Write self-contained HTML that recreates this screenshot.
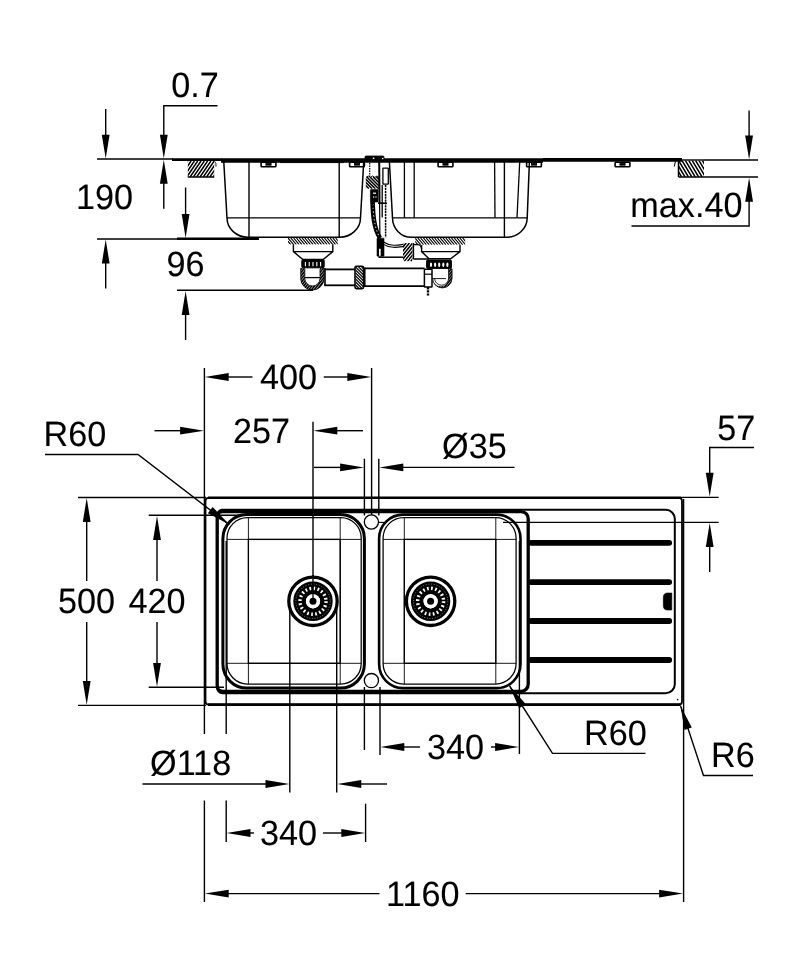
<!DOCTYPE html>
<html lang="en">
<head>
<meta charset="utf-8">
<title>Sink dimensional drawing</title>
<style>
html,body{margin:0;padding:0;background:#fff;}
body{width:801px;height:960px;overflow:hidden;}
svg{display:block;will-change:transform;}
svg text{font-family:"Liberation Sans",Arial,Helvetica,sans-serif;font-size:35.1px;text-rendering:geometricPrecision;fill:#000;stroke:#000;stroke-width:0.08px;}
</style>
</head>
<body>
<svg width="801" height="960" viewBox="0 0 801 960" stroke="#000" fill="none">
<rect x="0" y="0" width="801" height="960" fill="#fff" stroke="none"/>
<g id="side-view">
<line x1="97" y1="159" x2="173" y2="159" stroke-width="1.4"/>
<line x1="97" y1="239" x2="178" y2="239" stroke-width="1.4"/>
<line x1="177" y1="290.2" x2="313" y2="290.2" stroke-width="1.4"/>
<line x1="177" y1="238.8" x2="259" y2="238.8" stroke-width="2.6"/>
<line x1="105.7" y1="109" x2="105.7" y2="140" stroke-width="1.4"/>
<polygon points="105.70,158.60 101.80,134.70 109.60,134.70" fill="#000" stroke="none"/>
<line x1="105.7" y1="260" x2="105.7" y2="288.5" stroke-width="1.4"/>
<polygon points="105.70,239.60 109.60,263.50 101.80,263.50" fill="#000" stroke="none"/>
<path d="M217.5 105.7 H163.8 V140" stroke-width="1.4" fill="none"/>
<polygon points="163.80,158.60 159.90,134.70 167.70,134.70" fill="#000" stroke="none"/>
<polygon points="163.80,159.80 167.70,183.70 159.90,183.70" fill="#000" stroke="none"/>
<line x1="163.8" y1="180" x2="163.8" y2="208.7" stroke-width="1.4"/>
<line x1="185.6" y1="187.5" x2="185.6" y2="215" stroke-width="1.4"/>
<polygon points="185.60,238.00 181.70,214.10 189.50,214.10" fill="#000" stroke="none"/>
<polygon points="185.60,291.00 189.50,314.90 181.70,314.90" fill="#000" stroke="none"/>
<line x1="185.6" y1="312" x2="185.6" y2="340" stroke-width="1.4"/>
<line x1="749.1" y1="110.5" x2="749.1" y2="140" stroke-width="1.4"/>
<polygon points="749.10,159.40 745.20,135.50 753.00,135.50" fill="#000" stroke="none"/>
<polygon points="749.10,177.80 753.00,201.70 745.20,201.70" fill="#000" stroke="none"/>
<path d="M749.1 200 V226 H631.5" stroke-width="1.4" fill="none"/>
<line x1="704" y1="160" x2="758" y2="160" stroke-width="1.4"/>
<line x1="678.5" y1="177" x2="758" y2="177" stroke-width="1.4"/>
<text transform="translate(195 96.8) scale(0.975 1)" text-anchor="middle">0.7</text>
<text transform="translate(104.6 209.2) scale(0.975 1)" text-anchor="middle">190</text>
<text transform="translate(185.5 276) scale(0.975 1)" text-anchor="middle">96</text>
<text transform="translate(686.4 217.2) scale(0.975 1)" text-anchor="middle">max.40</text>
<line x1="172" y1="159.7" x2="222" y2="159.7" stroke-width="2.7"/>
<line x1="221" y1="160.4" x2="543" y2="160.4" stroke-width="4.5"/>
<line x1="543" y1="159.9" x2="682" y2="159.9" stroke-width="3.6"/>
<line x1="280" y1="162.6" x2="344" y2="162.6" stroke-width="0.9"/>
<clipPath id="h1"><rect x="187.8" y="161" width="26.4" height="16"/></clipPath>
<g clip-path="url(#h1)" stroke="#000" stroke-width="1.5">
<path d="M176.9 177.0L187.8 161.0M180.2 177.0L191.1 161.0M183.5 177.0L194.4 161.0M186.8 177.0L197.7 161.0M190.1 177.0L201.0 161.0M193.4 177.0L204.3 161.0M196.7 177.0L207.6 161.0M200.0 177.0L210.9 161.0M203.3 177.0L214.2 161.0M206.6 177.0L217.5 161.0M209.9 177.0L220.8 161.0M213.2 177.0L224.1 161.0M216.5 177.0L227.4 161.0M219.8 177.0L230.7 161.0M223.1 177.0L234.0 161.0"/>
</g>
<line x1="187.8" y1="177" x2="214.2" y2="177" stroke-width="1.5"/>
<path d="M214.4 161.2 Q216.6 163 216 166.6" stroke-width="0.9" fill="none"/>
<clipPath id="h2"><rect x="678.2" y="160.4" width="25.8" height="16.5"/></clipPath>
<g clip-path="url(#h2)" stroke="#000" stroke-width="1.55">
<path d="M668.3 160.4L678.2 176.9M671.7 160.4L681.6 176.9M675.1 160.4L685.0 176.9M678.5 160.4L688.4 176.9M681.9 160.4L691.8 176.9M685.3 160.4L695.2 176.9M688.7 160.4L698.6 176.9M692.1 160.4L702.0 176.9M695.5 160.4L705.4 176.9M698.9 160.4L708.8 176.9M702.3 160.4L712.2 176.9M705.7 160.4L715.6 176.9M709.1 160.4L719.0 176.9M712.5 160.4L722.4 176.9"/>
</g>
<line x1="678.5" y1="160.4" x2="678.5" y2="177" stroke-width="1.5"/>
<line x1="682" y1="160" x2="704" y2="160" stroke-width="1.4"/>
<line x1="675.5" y1="161" x2="674.3" y2="166.5" stroke-width="1"/>
<rect x="261.1" y="162.2" width="14.8" height="4.6" rx="0.8" stroke-width="1.6" fill="#fff"/>
<rect x="265.9" y="163.2" width="5.2" height="2" rx="0" stroke-width="0.8" fill="#000"/>
<rect x="349.6" y="162.2" width="14.8" height="4.6" rx="0.8" stroke-width="1.6" fill="#fff"/>
<rect x="354.4" y="163.2" width="5.2" height="2" rx="0" stroke-width="0.8" fill="#000"/>
<rect x="438.1" y="162.2" width="14.8" height="4.6" rx="0.8" stroke-width="1.6" fill="#fff"/>
<rect x="442.9" y="163.2" width="5.2" height="2" rx="0" stroke-width="0.8" fill="#000"/>
<rect x="526.6" y="162.2" width="14.8" height="4.6" rx="0.8" stroke-width="1.6" fill="#fff"/>
<rect x="531.4" y="163.2" width="5.2" height="2" rx="0" stroke-width="0.8" fill="#000"/>
<rect x="615.1" y="162.2" width="14.8" height="4.6" rx="0.8" stroke-width="1.6" fill="#fff"/>
<rect x="619.9" y="163.2" width="5.2" height="2" rx="0" stroke-width="0.8" fill="#000"/>
<path d="M223.8 162 L227 218 A21 19.5 0 0 0 248 237.3 H339.5 A21 19.5 0 0 0 360.5 218 L363.7 162" stroke-width="1.5" fill="none"/>
<line x1="249" y1="162" x2="249" y2="237.3" stroke-width="1.4"/>
<line x1="339.2" y1="162" x2="339.2" y2="237.3" stroke-width="1.4"/>
<line x1="227" y1="217.8" x2="360.5" y2="217.8" stroke-width="1.2"/>
<path d="M389.4 162 L392.5 218 A19 19.5 0 0 0 411.5 237.3 H506 A21 19.5 0 0 0 527.2 218 L529.4 162" stroke-width="1.5" fill="none"/>
<line x1="404.4" y1="162" x2="404.4" y2="217.8" stroke-width="1.3"/>
<line x1="414.2" y1="162" x2="414.2" y2="217.8" stroke-width="1.3"/>
<line x1="494.6" y1="162" x2="495" y2="217.8" stroke-width="1.3"/>
<line x1="504.4" y1="162" x2="504.4" y2="237.3" stroke-width="1.4"/>
<line x1="519.7" y1="162" x2="517" y2="217.8" stroke-width="1.3"/>
<line x1="392.5" y1="217.8" x2="527.2" y2="217.8" stroke-width="1.2"/>
<clipPath id="h3"><rect x="288" y="238" width="49.8" height="6.6"/></clipPath>
<g clip-path="url(#h3)" stroke="#000" stroke-width="1.15">
<path d="M282.4 238.0L288.0 244.6M285.2 238.0L290.8 244.6M288.0 238.0L293.6 244.6M290.8 238.0L296.4 244.6M293.6 238.0L299.2 244.6M296.4 238.0L302.0 244.6M299.2 238.0L304.8 244.6M302.0 238.0L307.6 244.6M304.8 238.0L310.4 244.6M307.6 238.0L313.2 244.6M310.4 238.0L316.0 244.6M313.2 238.0L318.8 244.6M316.0 238.0L321.6 244.6M318.8 238.0L324.4 244.6M321.6 238.0L327.2 244.6M324.4 238.0L330.0 244.6M327.2 238.0L332.8 244.6M330.0 238.0L335.6 244.6M332.8 238.0L338.4 244.6M335.6 238.0L341.2 244.6M338.4 238.0L344.0 244.6M341.2 238.0L346.8 244.6"/>
</g>
<clipPath id="h4"><rect x="415.2" y="238" width="50" height="6.8"/></clipPath>
<g clip-path="url(#h4)" stroke="#000" stroke-width="1.15">
<path d="M409.4 238.0L415.2 244.8M412.2 238.0L418.0 244.8M415.0 238.0L420.8 244.8M417.8 238.0L423.6 244.8M420.6 238.0L426.4 244.8M423.4 238.0L429.2 244.8M426.2 238.0L432.0 244.8M429.0 238.0L434.8 244.8M431.8 238.0L437.6 244.8M434.6 238.0L440.4 244.8M437.4 238.0L443.2 244.8M440.2 238.0L446.0 244.8M443.0 238.0L448.8 244.8M445.8 238.0L451.6 244.8M448.6 238.0L454.4 244.8M451.4 238.0L457.2 244.8M454.2 238.0L460.0 244.8M457.0 238.0L462.8 244.8M459.8 238.0L465.6 244.8M462.6 238.0L468.4 244.8M465.4 238.0L471.2 244.8M468.2 238.0L474.0 244.8"/>
</g>
<path d="M293.4 244.2 V251.6 L302.6 259.4 H323.4 L332.8 251.6 V244.2 M293.4 251.6 H332.8" stroke-width="1.4" fill="none"/>
<rect x="301.8" y="259.8" width="22.4" height="8" rx="1.2" stroke-width="1" fill="#000"/>
<line x1="305.4" y1="262" x2="305.4" y2="266.2" stroke-width="1.1" stroke="#fff"/>
<line x1="309.2" y1="262" x2="309.2" y2="266.2" stroke-width="1.1" stroke="#fff"/>
<line x1="313" y1="262" x2="313" y2="266.2" stroke-width="1.1" stroke="#fff"/>
<line x1="316.8" y1="262" x2="316.8" y2="266.2" stroke-width="1.1" stroke="#fff"/>
<line x1="320.6" y1="262" x2="320.6" y2="266.2" stroke-width="1.1" stroke="#fff"/>
<clipPath id="h8"><path d="M300.6 268 V278.4 A11.8 11.8 0 0 0 324.2 278.4 V268 Z M304.8 268 V278.4 A7.6 7.6 0 0 0 320 278.4 V268 Z" clip-rule="evenodd"/></clipPath>
<g clip-path="url(#h8)" stroke="#000" stroke-width="1.6">
<path d="M280.8 291.0L300.0 267.0M283.5 291.0L302.7 267.0M286.2 291.0L305.4 267.0M288.9 291.0L308.1 267.0M291.6 291.0L310.8 267.0M294.3 291.0L313.5 267.0M297.0 291.0L316.2 267.0M299.7 291.0L318.9 267.0M302.4 291.0L321.6 267.0M305.1 291.0L324.3 267.0M307.8 291.0L327.0 267.0M310.5 291.0L329.7 267.0M313.2 291.0L332.4 267.0M315.9 291.0L335.1 267.0M318.6 291.0L337.8 267.0M321.3 291.0L340.5 267.0M324.0 291.0L343.2 267.0M326.7 291.0L345.9 267.0M329.4 291.0L348.6 267.0M332.1 291.0L351.3 267.0M334.8 291.0L354.0 267.0M337.5 291.0L356.7 267.0M340.2 291.0L359.4 267.0M342.9 291.0L362.1 267.0"/>
</g>
<path d="M300.8 268 V278.4 A11.6 11.6 0 0 0 324 278.4 V268" stroke-width="0.8" fill="none"/>
<path d="M304.8 269 V278.4 A7.6 7.6 0 0 0 320 278.4 V269" stroke-width="0.8" fill="none"/>
<line x1="305" y1="277.6" x2="320" y2="277.6" stroke-width="1.3"/>
<line x1="324.4" y1="269.4" x2="355" y2="269.4" stroke-width="1.8"/>
<line x1="324.4" y1="285.3" x2="355" y2="285.3" stroke-width="1.8"/>
<line x1="325" y1="268" x2="325" y2="286" stroke-width="1.6"/>
<rect x="355" y="266.2" width="8.6" height="22.4" rx="1.5" stroke-width="1.6" fill="#fff"/>
<clipPath id="h5"><rect x="355.6" y="267" width="7.4" height="21"/></clipPath>
<g clip-path="url(#h5)" stroke="#000" stroke-width="1.2">
<path d="M334.6 267.0L355.6 288.0M337.6 267.0L358.6 288.0M340.6 267.0L361.6 288.0M343.6 267.0L364.6 288.0M346.6 267.0L367.6 288.0M349.6 267.0L370.6 288.0M352.6 267.0L373.6 288.0M355.6 267.0L376.6 288.0M358.6 267.0L379.6 288.0M361.6 267.0L382.6 288.0M364.6 267.0L385.6 288.0M367.6 267.0L388.6 288.0M370.6 267.0L391.6 288.0M373.6 267.0L394.6 288.0M376.6 267.0L397.6 288.0M379.6 267.0L400.6 288.0M382.6 267.0L403.6 288.0"/>
</g>
<line x1="364.6" y1="268.4" x2="424.6" y2="268.4" stroke-width="1.7"/>
<line x1="364.6" y1="286.2" x2="424.6" y2="286.2" stroke-width="1.7"/>
<line x1="364.8" y1="267.6" x2="364.8" y2="287" stroke-width="1.5"/>
<path d="M421.6 245 V251.6 L429 258.8 H450.6 L460 251.6 V245 M421.6 251.6 H460" stroke-width="1.4" fill="none"/>
<rect x="426.6" y="260" width="24.8" height="8.4" rx="1.2" stroke-width="1" fill="#000"/>
<ellipse cx="431" cy="264.8" rx="1.1" ry="2.2" fill="#fff" stroke="none"/>
<ellipse cx="435.1" cy="264.8" rx="1.1" ry="2.2" fill="#fff" stroke="none"/>
<ellipse cx="439.2" cy="264.8" rx="1.1" ry="2.2" fill="#fff" stroke="none"/>
<ellipse cx="443.3" cy="264.8" rx="1.1" ry="2.2" fill="#fff" stroke="none"/>
<ellipse cx="447.4" cy="264.8" rx="1.1" ry="2.2" fill="#fff" stroke="none"/>
<clipPath id="h9"><path d="M432.4 268.6 V278.2 A9.9 9.9 0 0 0 452.2 278.2 V268.6 Z M432.4 268.6 V278.2 A7 7 0 0 0 448.6 278.2 V268.6 Z" clip-rule="evenodd"/></clipPath>
<g clip-path="url(#h9)" stroke="#000" stroke-width="1.6">
<path d="M414.4 289.0L432.0 267.0M417.0 289.0L434.6 267.0M419.6 289.0L437.2 267.0M422.2 289.0L439.8 267.0M424.8 289.0L442.4 267.0M427.4 289.0L445.0 267.0M430.0 289.0L447.6 267.0M432.6 289.0L450.2 267.0M435.2 289.0L452.8 267.0M437.8 289.0L455.4 267.0M440.4 289.0L458.0 267.0M443.0 289.0L460.6 267.0M445.6 289.0L463.2 267.0M448.2 289.0L465.8 267.0M450.8 289.0L468.4 267.0M453.4 289.0L471.0 267.0M456.0 289.0L473.6 267.0M458.6 289.0L476.2 267.0M461.2 289.0L478.8 267.0M463.8 289.0L481.4 267.0M466.4 289.0L484.0 267.0M469.0 289.0L486.6 267.0"/>
</g>
<path d="M432.6 278.2 A9.7 9.7 0 0 0 452 278.2 V268.6" stroke-width="0.8" fill="none"/>
<path d="M434.6 278.2 A7 7 0 0 0 448.6 278.2 V269" stroke-width="0.8" fill="none"/>
<line x1="432.6" y1="278.6" x2="446" y2="278.6" stroke-width="0.9"/>
<rect x="424.4" y="269.2" width="7.6" height="17.8" rx="0.5" stroke-width="1.5" fill="#fff"/>
<line x1="424.4" y1="274.2" x2="432" y2="274.2" stroke-width="1.2"/>
<line x1="428" y1="287" x2="428" y2="295.6" stroke-width="2.4" stroke-dasharray="2.4 0.8"/>
<path d="M384 242.2 C390 246.4 397 245.4 403.4 244.4 M384 244.6 C390 248.4 397 247.4 403.4 246.6" stroke-width="1.1" fill="none"/>
<line x1="378.4" y1="257.2" x2="403.4" y2="257.2" stroke-width="1.5"/>
<clipPath id="h6"><rect x="403" y="243" width="9.4" height="18.4"/></clipPath>
<g clip-path="url(#h6)" stroke="#000" stroke-width="1.5">
<path d="M388.3 261.4L403.0 243.0M391.5 261.4L406.2 243.0M394.7 261.4L409.4 243.0M397.9 261.4L412.6 243.0M401.1 261.4L415.8 243.0M404.3 261.4L419.0 243.0M407.5 261.4L422.2 243.0M410.7 261.4L425.4 243.0M413.9 261.4L428.6 243.0M417.1 261.4L431.8 243.0M420.3 261.4L435.0 243.0M423.5 261.4L438.2 243.0M426.7 261.4L441.4 243.0"/>
</g>
<line x1="413.4" y1="243" x2="413.4" y2="259" stroke-width="1.5"/>
<path d="M413.4 244.6 H418 Q421.2 245 421.6 249 M413.4 259 H429" stroke-width="1.3" fill="none"/>
<rect x="365" y="156" width="19" height="4.4" rx="1" stroke-width="0.8" fill="#000"/>
<rect x="372.8" y="157.6" width="1.6" height="1.4" rx="0" stroke-width="0" fill="#fff" stroke="none"/>
<rect x="382" y="157.8" width="1.4" height="1.4" rx="0" stroke-width="0" fill="#fff" stroke="none"/>
<line x1="369.7" y1="163" x2="369.7" y2="177" stroke-width="1.2" stroke-dasharray="1.6 0.9"/>
<line x1="379.2" y1="162" x2="379.5" y2="204" stroke-width="2"/>
<line x1="379.6" y1="204" x2="379.9" y2="238" stroke-width="1.2"/>
<rect x="382.9" y="168.2" width="5.4" height="16" rx="0.4" stroke-width="1.3" fill="#fff"/>
<clipPath id="h7"><rect x="365.8" y="177" width="13.4" height="11.8"/></clipPath>
<g clip-path="url(#h7)" stroke="#000" stroke-width="1.5">
<path d="M354.0 177.0L365.8 188.8M357.2 177.0L369.0 188.8M360.4 177.0L372.2 188.8M363.6 177.0L375.4 188.8M366.8 177.0L378.6 188.8M370.0 177.0L381.8 188.8M373.2 177.0L385.0 188.8M376.4 177.0L388.2 188.8M379.6 177.0L391.4 188.8M382.8 177.0L394.6 188.8M386.0 177.0L397.8 188.8M389.2 177.0L401.0 188.8"/>
</g>
<path d="M366 177.4 l2.2 -1.4 l2.2 1.4 l2.2 -1.4 l2.2 1.4 l2.2 -1.4 l2 1.4" stroke-width="1" fill="none"/>
<rect x="370.4" y="189.4" width="7.6" height="12.6" rx="0.6" stroke-width="0.6" fill="#000"/>
<rect x="373" y="192.6" width="3" height="1.2" rx="0" stroke-width="0" fill="#fff" stroke="none"/>
<rect x="373" y="196.4" width="1.2" height="1.2" rx="0" stroke-width="0" fill="#fff" stroke="none"/>
<rect x="375.4" y="196.4" width="1.2" height="1.2" rx="0" stroke-width="0" fill="#fff" stroke="none"/>
<line x1="378" y1="203.2" x2="387" y2="203.2" stroke-width="1.6"/>
<line x1="382.2" y1="185" x2="382.2" y2="217.5" stroke-width="1.3"/>
<line x1="385.6" y1="185" x2="385.6" y2="237.5" stroke-width="1.5" stroke-dasharray="2.2 0.7"/>
<path d="M372.6 202 C373 214 373.6 228 380 238" stroke-width="4.6" fill="none"/>
<path d="M373 204 C373.4 214 374 226 379 236" stroke-width="0.9" fill="none" stroke="#fff" stroke-dasharray="1.4 2.4"/>
<path d="M370.6 203 l4 3 M371 206 l4 3" stroke-width="1" fill="none"/>
<rect x="377" y="238.2" width="7" height="18" rx="0.4" stroke-width="0.6" fill="#000"/>
<rect x="379" y="248.8" width="1.7" height="7" rx="0" stroke-width="0" fill="#fff" stroke="none"/>
</g>
<g id="plan-view">
<line x1="204.4" y1="368" x2="204.4" y2="734" stroke-width="1.4"/>
<line x1="204.4" y1="800.5" x2="204.4" y2="902" stroke-width="1.4"/>
<line x1="371.6" y1="368" x2="371.6" y2="515" stroke-width="1.4"/>
<line x1="313" y1="421.7" x2="313" y2="601" stroke-width="1.4"/>
<line x1="364.4" y1="458.7" x2="364.4" y2="515.5" stroke-width="1.4"/>
<line x1="364.4" y1="687" x2="364.4" y2="750" stroke-width="1.4"/>
<line x1="378.8" y1="458.7" x2="378.8" y2="515.5" stroke-width="1.4"/>
<line x1="380" y1="687" x2="380" y2="755" stroke-width="1.4"/>
<line x1="365.6" y1="803.7" x2="365.6" y2="842" stroke-width="1.4"/>
<line x1="226.2" y1="541" x2="226.2" y2="734" stroke-width="1.4"/>
<line x1="226.2" y1="800.5" x2="226.2" y2="842" stroke-width="1.4"/>
<line x1="289.8" y1="606" x2="289.8" y2="792.5" stroke-width="1.4"/>
<line x1="336.7" y1="606" x2="336.7" y2="792.5" stroke-width="1.4"/>
<line x1="519.4" y1="541" x2="519.4" y2="754" stroke-width="1.4"/>
<line x1="683.6" y1="499" x2="683.6" y2="902" stroke-width="1.4"/>
<line x1="78" y1="497.5" x2="206" y2="497.5" stroke-width="1.4"/>
<line x1="78" y1="705.4" x2="206" y2="705.4" stroke-width="1.4"/>
<line x1="148.7" y1="515.3" x2="247" y2="515.3" stroke-width="1.4"/>
<line x1="148.7" y1="687.3" x2="224" y2="687.3" stroke-width="1.4"/>
<line x1="680" y1="497.4" x2="718.7" y2="497.4" stroke-width="1.4"/>
<line x1="503" y1="522.4" x2="718.7" y2="522.4" stroke-width="1.4"/>
<line x1="378.6" y1="522.4" x2="384.6" y2="522.4" stroke-width="1.1"/>
<polygon points="204.80,377.00 228.70,373.10 228.70,380.90" fill="#000" stroke="none"/>
<line x1="226" y1="377" x2="252.5" y2="377" stroke-width="1.4"/>
<line x1="323.7" y1="377" x2="350" y2="377" stroke-width="1.4"/>
<polygon points="371.20,377.00 347.30,380.90 347.30,373.10" fill="#000" stroke="none"/>
<text transform="translate(288.5 389.2) scale(0.975 1)" text-anchor="middle">400</text>
<polygon points="204.00,430.70 180.10,434.60 180.10,426.80" fill="#000" stroke="none"/>
<line x1="154.5" y1="430.7" x2="182" y2="430.7" stroke-width="1.4"/>
<text transform="translate(43.6 445.5) scale(0.975 1)" text-anchor="start">R60</text>
<path d="M45 454.5 H138 L229.2 524.6" stroke-width="1.4" fill="none"/>
<polygon points="229.20,524.60 207.87,513.13 212.63,506.94" fill="#000" stroke="none"/>
<polygon points="313.40,430.70 337.30,426.80 337.30,434.60" fill="#000" stroke="none"/>
<line x1="335" y1="430.7" x2="363" y2="430.7" stroke-width="1.4"/>
<text transform="translate(261.6 442.6) scale(0.975 1)" text-anchor="middle">257</text>
<line x1="314" y1="467.4" x2="342" y2="467.4" stroke-width="1.4"/>
<polygon points="364.00,467.40 340.10,471.30 340.10,463.50" fill="#000" stroke="none"/>
<polygon points="379.40,467.40 403.30,463.50 403.30,471.30" fill="#000" stroke="none"/>
<line x1="402" y1="467.4" x2="514.5" y2="467.4" stroke-width="1.4"/>
<text transform="translate(474.4 457.6) scale(0.975 1)" text-anchor="middle">Ø35</text>
<text transform="translate(736.2 439.6) scale(0.975 1)" text-anchor="middle">57</text>
<path d="M754 447.5 H709.7 V475" stroke-width="1.4" fill="none"/>
<polygon points="709.70,496.60 705.80,472.70 713.60,472.70" fill="#000" stroke="none"/>
<polygon points="709.70,523.00 713.60,546.90 705.80,546.90" fill="#000" stroke="none"/>
<line x1="709.7" y1="545" x2="709.7" y2="572" stroke-width="1.4"/>
<polygon points="86.70,498.00 90.60,521.90 82.80,521.90" fill="#000" stroke="none"/>
<line x1="86.7" y1="520" x2="86.7" y2="581" stroke-width="1.4"/>
<line x1="86.7" y1="622" x2="86.7" y2="683" stroke-width="1.4"/>
<polygon points="86.70,704.80 82.80,680.90 90.60,680.90" fill="#000" stroke="none"/>
<text transform="translate(86.6 612.6) scale(0.975 1)" text-anchor="middle">500</text>
<polygon points="157.00,516.00 160.90,539.90 153.10,539.90" fill="#000" stroke="none"/>
<line x1="157" y1="538" x2="157" y2="581" stroke-width="1.4"/>
<line x1="157" y1="622" x2="157" y2="666" stroke-width="1.4"/>
<polygon points="157.00,686.80 153.10,662.90 160.90,662.90" fill="#000" stroke="none"/>
<text transform="translate(157 612.6) scale(0.975 1)" text-anchor="middle">420</text>
<text transform="translate(190.6 774.6) scale(0.975 1)" text-anchor="middle">Ø118</text>
<line x1="142.5" y1="784" x2="267" y2="784" stroke-width="1.4"/>
<polygon points="289.40,784.00 265.50,787.90 265.50,780.10" fill="#000" stroke="none"/>
<polygon points="337.40,784.00 361.30,780.10 361.30,787.90" fill="#000" stroke="none"/>
<line x1="359" y1="784" x2="387" y2="784" stroke-width="1.4"/>
<polygon points="380.40,747.00 404.30,743.10 404.30,750.90" fill="#000" stroke="none"/>
<line x1="402" y1="747" x2="420" y2="747" stroke-width="1.4"/>
<text transform="translate(455.6 758.8) scale(0.975 1)" text-anchor="middle">340</text>
<line x1="491" y1="747" x2="497" y2="747" stroke-width="1.4"/>
<polygon points="519.00,747.00 495.10,750.90 495.10,743.10" fill="#000" stroke="none"/>
<polygon points="226.60,833.00 250.50,829.10 250.50,836.90" fill="#000" stroke="none"/>
<line x1="248" y1="833" x2="254" y2="833" stroke-width="1.4"/>
<text transform="translate(288.5 845.4) scale(0.975 1)" text-anchor="middle">340</text>
<line x1="323" y1="833" x2="343" y2="833" stroke-width="1.4"/>
<polygon points="365.20,833.00 341.30,836.90 341.30,829.10" fill="#000" stroke="none"/>
<polygon points="204.80,893.60 228.70,889.70 228.70,897.50" fill="#000" stroke="none"/>
<line x1="226" y1="893.6" x2="379.5" y2="893.6" stroke-width="1.4"/>
<line x1="465.7" y1="893.6" x2="661" y2="893.6" stroke-width="1.4"/>
<polygon points="683.00,893.60 659.10,897.50 659.10,889.70" fill="#000" stroke="none"/>
<text transform="translate(422.8 905.6) scale(0.975 1)" text-anchor="middle">1160</text>
<text transform="translate(584 745.2) scale(0.975 1)" text-anchor="start">R60</text>
<path d="M645.5 753.4 H552.5 L509.6 686" stroke-width="1.4" fill="none"/>
<polygon points="509.60,686.00 525.72,704.07 519.14,708.26" fill="#000" stroke="none"/>
<text transform="translate(711 767.2) scale(0.975 1)" text-anchor="start">R6</text>
<path d="M753 775.5 H703.5 L680.6 706" stroke-width="1.4" fill="none"/>
<polygon points="680.60,706.00 691.78,727.48 684.38,729.92" fill="#000" stroke="none"/>
<rect x="205.5" y="497.8" width="476.5" height="206.8" rx="3.2" stroke-width="1.8" fill="none"/>
<line x1="208" y1="497.8" x2="680.6" y2="497.8" stroke-width="2.5"/>
<line x1="208" y1="704.6" x2="680.6" y2="704.6" stroke-width="2.9"/>
<circle cx="677.6" cy="699.6" r="0.8" stroke-width="0" fill="#000" stroke="none"/>
<path d="M222.5 509.8 H665.8 A9 9 0 0 1 674.8 518.8 V684.2 A9 9 0 0 1 665.8 693.2 H222.5 A5.5 5.5 0 0 1 217 687.7 V515.3 A5.5 5.5 0 0 1 222.5 509.8 Z" stroke-width="2" fill="none"/>
<path d="M222.7 511.6 H521.2 A7 7 0 0 1 528.2 518.6 V684.3 A7 7 0 0 1 521.2 691.3 H222.7 A5.5 5.5 0 0 1 217.2 685.8 V517.1 A5.5 5.5 0 0 1 222.7 511.6 Z" stroke-width="3.3" fill="none"/>
<rect x="222.9" y="514.6" width="141.5" height="173.5" rx="24" stroke-width="3" fill="none"/>
<rect x="227" y="517.6" width="134.2" height="166.4" rx="20.5" stroke-width="1.25" fill="none"/>
<line x1="248.4" y1="518" x2="248.4" y2="684" stroke-width="0.9"/>
<line x1="340.2" y1="518" x2="340.2" y2="684" stroke-width="0.9"/>
<line x1="227" y1="539.4" x2="361.2" y2="539.4" stroke-width="0.9"/>
<line x1="227" y1="663.3" x2="361.2" y2="663.3" stroke-width="0.9"/>
<rect x="248.4" y="539.4" width="91.8" height="123.9" rx="0" stroke-width="1.3" fill="none"/>
<rect x="379.1" y="514.6" width="141.4" height="173.5" rx="24" stroke-width="2.6" fill="none"/>
<rect x="383.1" y="517.6" width="133" height="166.4" rx="20.5" stroke-width="1.25" fill="none"/>
<line x1="404.3" y1="518" x2="404.3" y2="684" stroke-width="0.9"/>
<line x1="495.8" y1="518" x2="495.8" y2="684" stroke-width="0.9"/>
<line x1="383.1" y1="539.4" x2="516.1" y2="539.4" stroke-width="0.9"/>
<line x1="383.1" y1="663.3" x2="516.1" y2="663.3" stroke-width="0.9"/>
<rect x="404.3" y="539.4" width="91.5" height="123.9" rx="0" stroke-width="1.3" fill="none"/>
<circle cx="371.4" cy="522" r="7.1" stroke-width="1.3" fill="#fff"/>
<circle cx="371.4" cy="680.6" r="7.1" stroke-width="1.3" fill="#fff"/>
<circle cx="313" cy="601.3" r="24.2" stroke-width="3.3" fill="#fff"/>
<circle cx="313" cy="601.3" r="13.4" stroke-width="12.6" fill="none"/>
<circle cx="313" cy="601.3" r="13" stroke-width="3.4" fill="none" stroke="#fff" stroke-dasharray="1.7 2.39"/>
<circle cx="313" cy="601.3" r="17.2" stroke-width="0.7" fill="none" stroke="#fff" stroke-dasharray="1 1.7" opacity="0.7"/>
<circle cx="313" cy="601.3" r="5.6" stroke-width="3" fill="#fff" stroke="#fff"/>
<circle cx="313" cy="601.3" r="3.5" stroke-width="0" fill="#000" stroke="none"/>
<circle cx="430.6" cy="601.3" r="24.2" stroke-width="3.3" fill="#fff"/>
<circle cx="430.6" cy="601.3" r="13.4" stroke-width="12.6" fill="none"/>
<circle cx="430.6" cy="601.3" r="13" stroke-width="3.4" fill="none" stroke="#fff" stroke-dasharray="1.7 2.39"/>
<circle cx="430.6" cy="601.3" r="17.2" stroke-width="0.7" fill="none" stroke="#fff" stroke-dasharray="1 1.7" opacity="0.7"/>
<circle cx="430.6" cy="601.3" r="5.6" stroke-width="3" fill="#fff" stroke="#fff"/>
<circle cx="430.6" cy="601.3" r="3.5" stroke-width="0" fill="#000" stroke="none"/>
<line x1="313" y1="575" x2="313" y2="601" stroke-width="1.3"/>
<line x1="531" y1="542.8" x2="669.2" y2="542.8" stroke-width="5.8" stroke-linecap="round"/>
<line x1="531" y1="582.1" x2="669.2" y2="582.1" stroke-width="5.8" stroke-linecap="round"/>
<line x1="531" y1="621" x2="669.2" y2="621" stroke-width="5.8" stroke-linecap="round"/>
<line x1="531" y1="660" x2="669.2" y2="660" stroke-width="5.8" stroke-linecap="round"/>
<path d="M671.8 593 H667.5 Q663.3 593 663.3 597.5 V605.5 Q663.3 610 667.5 610 H671.8 Z" stroke-width="0.6" fill="#000"/>
</g>
</svg>
</body>
</html>
